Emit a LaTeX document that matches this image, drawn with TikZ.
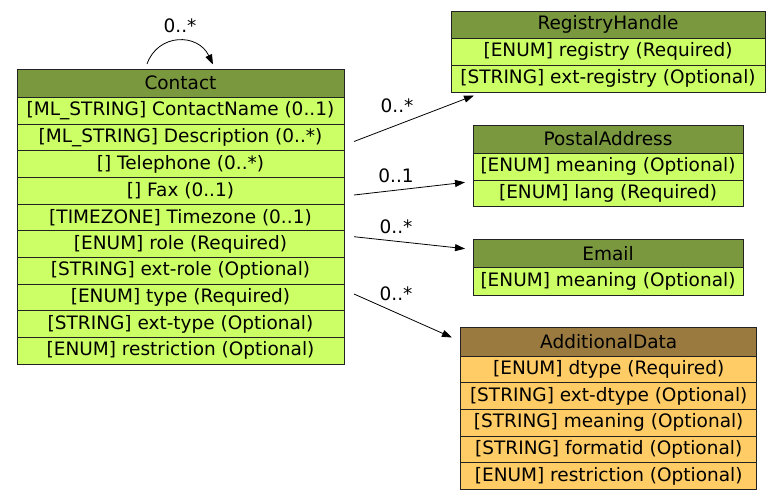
\documentclass[tikz,border=0pt]{standalone}
\usepackage{fontspec}
\setmainfont{DejaVu Sans}
\usetikzlibrary{arrows.meta}
\definecolor{hdgreen}{HTML}{7A993F}
\definecolor{rowgreen}{HTML}{CCFF66}
\definecolor{hdorange}{HTML}{9A7A3F}
\definecolor{roworange}{HTML}{FFCC66}
\definecolor{edgecol}{HTML}{222222}
\newcommand{\cellbox}[7]{%
  \node[cell, fill=#6, minimum width={(#4-#2)*1pt}, minimum height={(#5-#3)*1pt}]
    (#1) at ({(#2+#4)/2},{(#3+#5)/2}) {#7};}
\begin{document}
\begin{tikzpicture}[x=1pt,y=-1pt,
  cell/.style={draw=edgecol, line width=0.9pt, inner sep=0pt, outer sep=0pt,
    font=\fontsize{18.5}{20}\selectfont, text=black},
  link/.style={draw=black, line width=0.8pt, -{Triangle[length=10pt,width=7pt]}},
  mult/.style={font=\fontsize{18.5}{20}\selectfont, inner sep=0pt}]
\useasboundingbox (0,0) rectangle (781,499);
\fill[white] (0,0) rectangle (781,499);
% Contact
\cellbox{contact}{17}{69}{344}{97}{hdgreen}{Contact}
\cellbox{c1}{17}{97}{344}{124}{rowgreen}{[ML\_STRING] ContactName (0..1)}
\cellbox{c2}{17}{124}{344}{150.7}{rowgreen}{[ML\_STRING] Description (0..*)}
\cellbox{c3}{17}{150.7}{344}{177.3}{rowgreen}{[] Telephone (0..*)}
\cellbox{c4}{17}{177.3}{344}{204}{rowgreen}{[] Fax (0..1)}
\cellbox{c5}{17}{204}{344}{230.7}{rowgreen}{[TIMEZONE] Timezone (0..1)}
\cellbox{c6}{17}{230.7}{344}{257.3}{rowgreen}{[ENUM] role (Required)}
\cellbox{c7}{17}{257.3}{344}{284}{rowgreen}{[STRING] ext-role (Optional)}
\cellbox{c8}{17}{284}{344}{310.7}{rowgreen}{[ENUM] type (Required)}
\cellbox{c9}{17}{310.7}{344}{337.3}{rowgreen}{[STRING] ext-type (Optional)}
\cellbox{c10}{17}{337.3}{344}{364}{rowgreen}{[ENUM] restriction (Optional)}
% RegistryHandle
\cellbox{reg}{451}{11}{765}{38}{hdgreen}{RegistryHandle}
\cellbox{r1}{451}{38}{765}{65}{rowgreen}{[ENUM] registry (Required)}
\cellbox{r2}{451}{65}{765}{92}{rowgreen}{[STRING] ext-registry (Optional)}
% PostalAddress
\cellbox{post}{473}{125}{743}{153}{hdgreen}{PostalAddress}
\cellbox{p1}{473}{153}{743}{180}{rowgreen}{[ENUM] meaning (Optional)}
\cellbox{p2}{473}{180}{743}{206.7}{rowgreen}{[ENUM] lang (Required)}
% Email
\cellbox{email}{473}{239.3}{743}{267.7}{hdgreen}{Email}
\cellbox{e1}{473}{267.7}{743}{295}{rowgreen}{[ENUM] meaning (Optional)}
% AdditionalData
\cellbox{add}{460.7}{327.7}{756.7}{356}{hdorange}{AdditionalData}
\cellbox{a1}{460.7}{356}{756.7}{382.7}{roworange}{[ENUM] dtype (Required)}
\cellbox{a2}{460.7}{382.7}{756.7}{409.3}{roworange}{[STRING] ext-dtype (Optional)}
\cellbox{a3}{460.7}{409.3}{756.7}{436}{roworange}{[STRING] meaning (Optional)}
\cellbox{a4}{460.7}{436}{756.7}{462.7}{roworange}{[STRING] formatid (Optional)}
\cellbox{a5}{460.7}{462.7}{756.7}{489.3}{roworange}{[ENUM] restriction (Optional)}
% connector end points
\coordinate (sA) at (354,141.5);
\coordinate (tA) at (474,95.5);
\coordinate (sB) at (354,195);
\coordinate (tB) at (465,182.3);
\coordinate (sC) at (354,236.7);
\coordinate (tC) at (465,248.7);
\coordinate (sD) at (354,294);
\coordinate (tD) at (452,337.5);
\coordinate (sL) at (147,64);
\coordinate (tL) at (213,64.5);
\draw[link] (sA) -- (tA);
\draw[link] (sB) -- (tB);
\draw[link] (sC) -- (tC);
\draw[link] (sD) -- (tD);
\draw[link] (sL) .. controls (158,33) and (198,33) .. (tL);
% labels
\node[mult] (mL) at (180,26) {0..*};
\node[mult] (mA) at (397,106) {0..*};
\node[mult] (mB) at (396,176) {0..1};
\node[mult] (mC) at (396,227) {0..*};
\node[mult] (mD) at (396,294) {0..*};
\end{tikzpicture}
\end{document}
